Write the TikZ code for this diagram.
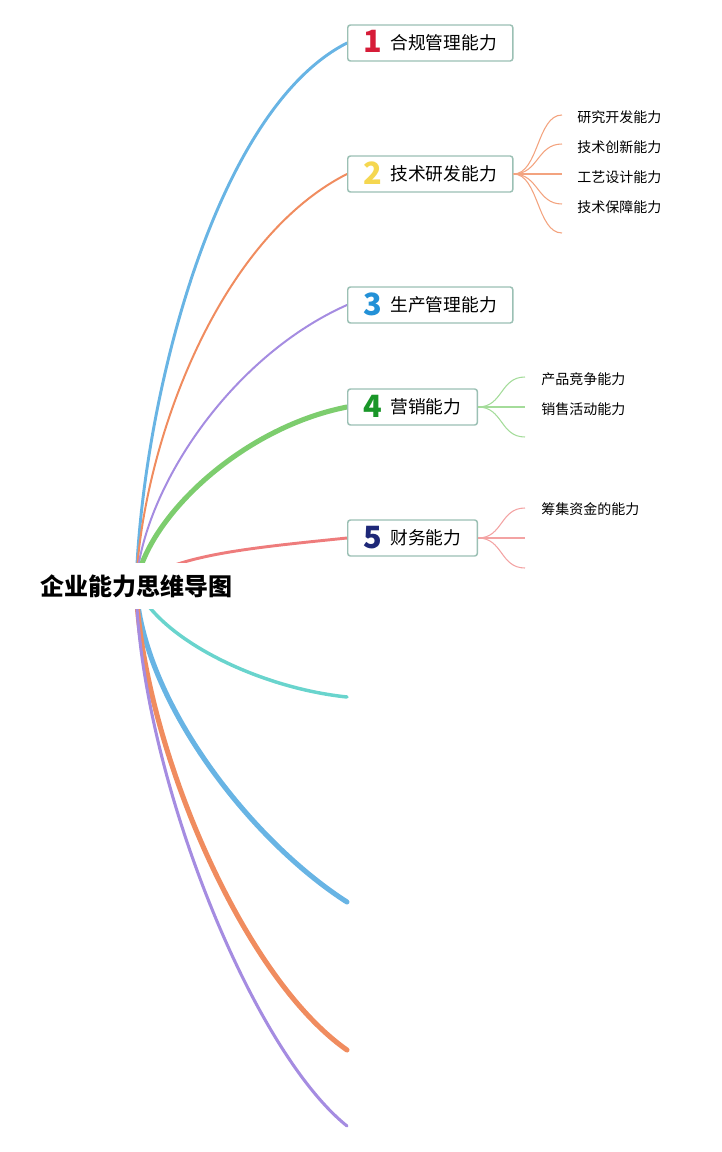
\documentclass[tikz,border=0pt]{standalone}
\usepackage{fontspec}
\usepackage{xcolor}
\usepackage{tikz}
\usetikzlibrary{backgrounds}
\newfontfamily\cjk{Noto Sans CJK SC}
\definecolor{col1}{RGB}{104,180,228}
\definecolor{col2}{RGB}{240,140,95}
\definecolor{col3}{RGB}{165,140,225}
\definecolor{col4}{RGB}{125,205,110}
\definecolor{col5}{RGB}{238,124,124}
\definecolor{col6}{RGB}{105,212,205}
\definecolor{n1}{RGB}{214,28,56}
\definecolor{n2}{RGB}{245,215,80}
\definecolor{n3}{RGB}{35,145,215}
\definecolor{n4}{RGB}{25,150,40}
\definecolor{n5}{RGB}{30,40,120}
\definecolor{boxc}{RGB}{155,192,180}
\newcommand{\topicnum}[2]{\raisebox{-2.5pt}{\color{#1}\bfseries\fontsize{23}{23}\selectfont #2}\hspace{6pt}}
\tikzset{
  root/.style ={fill=white,inner xsep=8pt,minimum height=34pt,font=\cjk\bfseries\fontsize{18}{18}\selectfont},
  topic/.style={draw=boxc,line width=1.1pt,rounded corners=2pt,fill=white,anchor=west,
                minimum height=27pt,inner xsep=12pt,inner ysep=0pt,text height=15pt,text depth=5pt,
                font=\cjk\fontsize{13.3}{14}\selectfont},
  leaf/.style ={anchor=west,inner sep=0pt,font=\cjk\fontsize{10.5}{12}\selectfont},
  br/.style   ={line cap=round},
  tw/.style   ={line width=0.8pt},
}

\begin{document}
\begin{tikzpicture}[x=0.75pt,y=-0.75pt]
  \useasboundingbox (0,0) rectangle (721,1152);
  % main topics
  \node[root] (root) at (136,586) {企业能力思维导图};
  \node[topic] (t1) at (347,43)  {\topicnum{n1}{1}合规管理能力};
  \node[topic] (t2) at (347,174) {\topicnum{n2}{2}技术研发能力};
  \node[topic] (t3) at (347,305) {\topicnum{n3}{3}生产管理能力};
  \node[topic] (t4) at (347,407) {\topicnum{n4}{4}营销能力};
  \node[topic] (t5) at (347,538) {\topicnum{n5}{5}财务能力};
  \coordinate (e6) at (347,697);
  \coordinate (e7) at (347,902);
  \coordinate (e8) at (347,1050);
  \coordinate (e9) at (347,1126);
  % sub topics
  \foreach \y [count=\i] in {115,144,174,204,233} \coordinate (s2\i) at (562,\y);
  \foreach \y [count=\i] in {377,407,437} {
    \coordinate (s4\i) at (525,\y);
    \coordinate (s5\i) at (525,\y+131);
  }
  \node[leaf] (l21) at (577,117) {研究开发能力};
  \node[leaf] (l22) at (577,147) {技术创新能力};
  \node[leaf] (l23) at (577,177) {工艺设计能力};
  \node[leaf] (l24) at (577,207) {技术保障能力};
  \node[leaf] (l41) at (541,379) {产品竞争能力};
  \node[leaf] (l42) at (541,409) {销售活动能力};
  \node[leaf] (l51) at (541,509) {筹集资金的能力};
  \begin{scope}[on background layer]
    \draw[br,col1,line width=2.2pt] (root.center) .. controls (142,400) and (215,110) .. (t1.west);
    \draw[br,col2,line width=1.5pt] (root.center) .. controls (142,446) and (217,240) .. (t2.west);
    \draw[br,col3,line width=1.5pt] (root.center) .. controls (142,490) and (230,357) .. (t3.west);
    \draw[br,col4,line width=3.8pt] (root.center) .. controls (145,520) and (240,428) .. (t4.west);
    \draw[br,col5,line width=2.2pt] (root.center) .. controls (170,555) and (250,548) .. (t5.west);
    \draw[br,col6,line width=2.6pt] (root.center) .. controls (160,640) and (260,688) .. (e6);
    \draw[br,col1,line width=3.8pt] (root.center) .. controls (142,700) and (250,840) .. (e7);
    \draw[br,col2,line width=3.8pt] (root.center) .. controls (142,740) and (240,975) .. (e8);
    \draw[br,col3,line width=2.3pt] (root.center) .. controls (140,770) and (250,1048) .. (e9);
  \end{scope}
  \foreach \i in {1,...,5} \draw[tw,col2!80] (t2.east) .. controls +(25,0) and +(-25,0) .. (s2\i);
  \foreach \i in {1,2,3} {
    \draw[tw,col4!70] (t4.east) .. controls +(25,0) and +(-25,0) .. (s4\i);
    \draw[tw,col5!70] (t5.east) .. controls +(25,0) and +(-25,0) .. (s5\i);
  }
\end{tikzpicture}
\end{document}
